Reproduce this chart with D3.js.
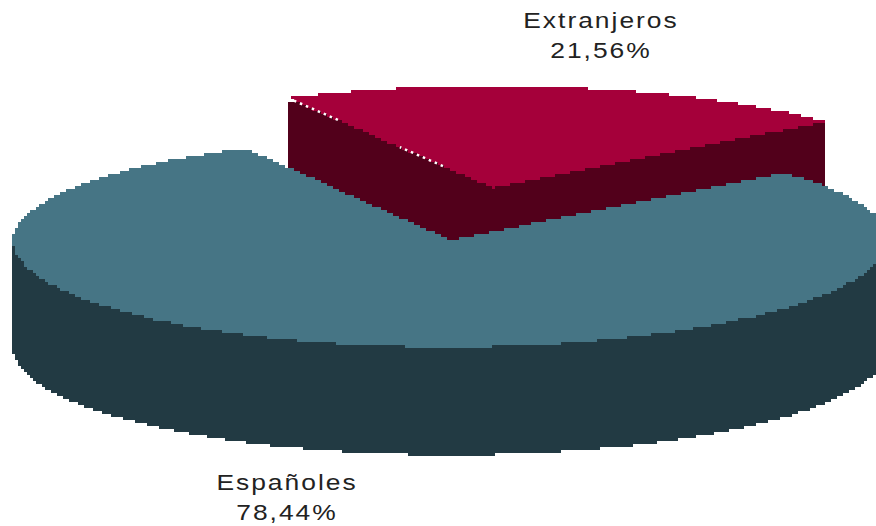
<!DOCTYPE html>
<html><head><meta charset="utf-8">
<script src="https://cdnjs.cloudflare.com/ajax/libs/d3/7.8.5/d3.min.js"></script>
<style>html,body{margin:0;padding:0;background:#fff}svg{display:block}
text{font-family:"Liberation Sans",Arial,sans-serif;font-size:22px;letter-spacing:1.67px;fill:#222;text-anchor:middle}
.soft{filter:blur(0.55px)}</style>
</head><body><svg id="c" width="876" height="526"></svg>
<script>
const categories = ["Extranjeros", "Españoles"];
const shares = [21.56, 78.44];
const shareLabels = ["21,56%", "78,44%"];
const topColors = ["#a5003a", "#467585"];
const sideColors = ["#52001b", "#223a43"];

const rx = 437, ry = 107, depth = 108, GRID = 3;
const svg = d3.select("#c");
const g = svg.append("g").attr("class", "soft");
const sx = d3.scaleLinear().domain([-1, 1]).range([450 - rx, 450 + rx]);
const sy = d3.scaleLinear().domain([-1, 1]).range([240 + ry, 240 - ry]);
const offset = [43, -52]; // explosion of the first slice
const rad = d => d * Math.PI / 180;
const arcs = d3.pie().sort(null).value(d => d).startAngle(rad(-28)).endAngle(rad(332))(shares);

const backScale = [102 / 107, 104 / 107]; // the far half of each ellipse is flatter
const P = (a, r, dx, dy, k) => {
  const c = Math.cos(a);
  return [sx(r * Math.sin(a)) + dx, sy(r * c * (c > 0 ? k : 1)) + dy];
};
const snap = p => [Math.round(p[0] / GRID) * GRID, Math.round(p[1] / GRID) * GRID];
const stair = d3.line().curve(d3.curveStepAfter);
function poly(pts, fill) {
  g.append("path").attr("d", stair(pts.map(snap)) + "Z").attr("fill", fill);
}
const arcPts = (a0, a1, dx, dy, k, r = 1) => d3.range(0, 401).map(i => P(a0 + (a1 - a0) * i / 400, r, dx, dy, k));
const radial = (a, dx, dy, out, k, rMax = 1) => {
  const r = d3.range(0, 201).map(i => P(a, rMax * i / 200, dx, dy, k));
  return out ? r : r.reverse();
};
const wall = (a, dx, dy, k) => [
  ...radial(a, dx, dy - 6, true, k, 0.9),
  P(a, 1, dx, dy + 3, k),
  ...radial(a, dx, dy + depth, false, k)
];

// Exploded slice
{
  const s = arcs[0], [dx, dy] = offset, k = backScale[0];
  poly(wall(s.startAngle, dx, dy, k), sideColors[0]);
  poly(wall(s.endAngle, dx, dy, k), sideColors[0]);
  poly([...radial(s.startAngle, dx, dy, true, k), ...arcPts(s.startAngle, s.endAngle, dx, dy, k), ...radial(s.endAngle, dx, dy, false, k)], topColors[0]);
}
// Main slice
{
  const s = arcs[1], k = backScale[1];
  poly([P(Math.PI / 2, 1, 0, 0, k), ...arcPts(Math.PI / 2, 3 * Math.PI / 2, 0, 0, k, 0.97), P(3 * Math.PI / 2, 1, 0, 0, k), ...arcPts(3 * Math.PI / 2, Math.PI / 2, 0, depth, k)], sideColors[1]);
  poly([...radial(s.startAngle, 0, 0, true, k), ...arcPts(s.startAngle, s.endAngle, 0, 0, k), ...radial(s.endAngle, 0, 0, false, k)], topColors[1]);
}
// Dotted highlight on parts of the exploded slice's left edge
{
  const s = arcs[0], [dx, dy] = offset, k = backScale[0];
  [[0.756, 0.976], [0.244, 0.454]].forEach(([r0, r1]) => {
    svg.append("path").datum([P(s.startAngle, r0, dx, dy, k), P(s.startAngle, r1, dx, dy, k)])
      .attr("d", d3.line()).attr("stroke", "#fff").attr("stroke-width", 2.5)
      .attr("stroke-dasharray", "2.5 4").attr("fill", "none");
  });
}
// Labels
const labelPos = [[601, 28, 58], [287, 490, 520]];
const put = (t, x, y) => svg.append("text").attr("transform", `translate(${x},${y}) scale(1.2,1)`).text(t);
categories.forEach((c, i) => {
  put(c, labelPos[i][0], labelPos[i][1]);
  put(shareLabels[i], labelPos[i][0], labelPos[i][2]);
});
</script></body></html>
